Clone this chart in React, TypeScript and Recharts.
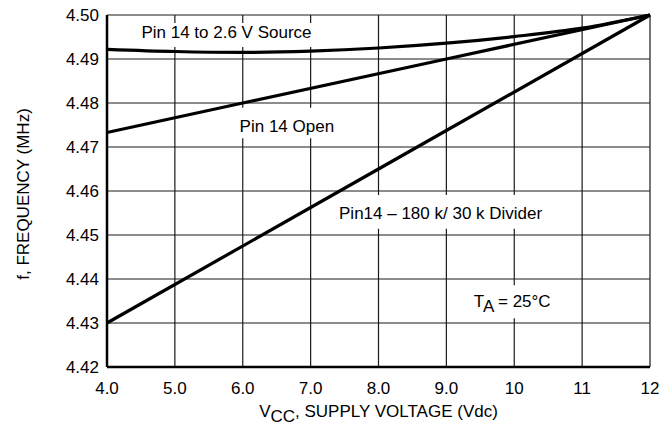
import React from 'react';
import { ComposedChart, Line, XAxis, YAxis, CartesianGrid, ReferenceArea } from 'recharts';

// ---- data ----
const voltageTicks = [4, 5, 6, 7, 8, 9, 10, 11, 12];
const freqTicks = [4.42, 4.43, 4.44, 4.45, 4.46, 4.47, 4.48, 4.49, 4.5];

const sourceV = [4, 5, 6, 7, 8, 9, 10, 11, 12];
const sourceF = [4.4922, 4.4917, 4.4915, 4.4918, 4.4925, 4.4936, 4.4951, 4.497, 4.5];

const openV = [4, 6, 9, 12];
const openF = [4.4733, 4.48, 4.49, 4.5];

const dividerV = [4, 8, 12];
const dividerF = [4.43, 4.465, 4.5];

const toRows = (xs: number[], ys: number[]) => xs.map((v, i) => ({ v, f: ys[i] }));
const sourceData = toRows(sourceV, sourceF);
const openData = toRows(openV, openF);
const dividerData = toRows(dividerV, dividerF);

// annotation boxes (data coordinates) with white background
type Annot = { x1: number; x2: number; y1: number; y2: number; dy: number; kind: string; text: string };
const annotations: Annot[] = [
  { x1: 4.41, x2: 7.11, y1: 4.4927, y2: 4.4982, dy: 3, kind: 'plain', text: 'Pin 14 to 2.6 V Source' },
  { x1: 5.9, x2: 7.4, y1: 4.472, y2: 4.4789, dy: 8.5, kind: 'plain', text: 'Pin 14 Open' },
  { x1: 7.33, x2: 10.5, y1: 4.4514, y2: 4.4591, dy: 7.5, kind: 'plain', text: 'Pin14 \u2013 180 k/ 30 k Divider' },
  { x1: 9.32, x2: 10.62, y1: 4.4311, y2: 4.4386, dy: 5.5, kind: 'ta', text: '= 25\u00B0C' },
];

const FONT = '"Liberation Sans", Arial, Helvetica, sans-serif';
const FS = 17;

const fmtX = (v: number) => (v < 10 ? v.toFixed(1) : String(v));
const fmtY = (v: number) => v.toFixed(2);

function annotLabel(a: Annot) {
  return (p: any) => {
    const vb = p.viewBox || {};
    const cx = vb.x + vb.width / 2;
    const cy = vb.y + vb.height / 2 + a.dy;
    if (a.kind === 'ta') {
      return (
        <text x={cx} y={cy} textAnchor="middle" fontFamily={FONT} fontSize={FS} fill="#000">
          T<tspan dy={5}>A</tspan>
          <tspan dy={-5}> {a.text}</tspan>
        </text>
      );
    }
    return (
      <text x={cx} y={cy} textAnchor="middle" fontFamily={FONT} fontSize={FS} fill="#000">
        {a.text}
      </text>
    );
  };
}

const xLabel = (p: any) => {
  const vb = p.viewBox || {};
  const cx = vb.x + vb.width / 2;
  return (
    <text x={cx} y={vb.y + 50} textAnchor="middle" fontFamily={FONT} fontSize={FS} fill="#000">
      V<tspan dy={5}>CC</tspan>
      <tspan dy={-5}>, SUPPLY VOLTAGE (Vdc)</tspan>
    </text>
  );
};

const yLabel = (p: any) => {
  const vb = p.viewBox || {};
  const cy = vb.y + vb.height / 2 + 3;
  const x = 29;
  return (
    <text
      x={x}
      y={cy}
      textAnchor="middle"
      transform={`rotate(-90, ${x}, ${cy})`}
      fontFamily={FONT}
      fontSize={FS}
      fill="#000"
    >
      f, FREQUENCY (MHz)
    </text>
  );
};

export default function App() {
  return (
    <div style={{ position: 'absolute', left: 0, top: 0, background: '#fff' }}>
      <ComposedChart width={671} height={427} margin={{ top: 15, right: 21, bottom: 0, left: 0 }}>
        <CartesianGrid stroke="#1a1a1a" strokeWidth={1.2} horizontalValues={freqTicks} verticalValues={voltageTicks} />
        {annotations.map((a, i) => (
          <ReferenceArea
            key={i}
            x1={a.x1}
            x2={a.x2}
            y1={a.y1}
            y2={a.y2}
            fill="#fff"
            fillOpacity={1}
            stroke="none"
            label={annotLabel(a)}
          />
        ))}
        <XAxis
          type="number"
          dataKey="v"
          domain={[4, 12]}
          ticks={voltageTicks}
          tickFormatter={fmtX}
          tickLine={false}
          tickMargin={9}
          axisLine={{ stroke: '#000', strokeWidth: 2.5 }}
          tick={{ fill: '#000', fontSize: FS, fontFamily: FONT }}
          height={60}
          allowDuplicatedCategory={false}
          label={xLabel}
        />
        <YAxis
          type="number"
          domain={[4.42, 4.5]}
          ticks={freqTicks}
          tickFormatter={fmtY}
          tickLine={false}
          tickMargin={2}
          axisLine={{ stroke: '#000', strokeWidth: 2.5 }}
          tick={{ fill: '#000', fontSize: FS, fontFamily: FONT }}
          width={107}
          label={yLabel}
        />
        <Line data={sourceData} dataKey="f" type="monotone" stroke="#000" strokeWidth={3.2} dot={false} isAnimationActive={false} />
        <Line data={openData} dataKey="f" type="linear" stroke="#000" strokeWidth={3.2} dot={false} isAnimationActive={false} />
        <Line data={dividerData} dataKey="f" type="linear" stroke="#000" strokeWidth={3.2} dot={false} isAnimationActive={false} />
      </ComposedChart>
    </div>
  );
}
